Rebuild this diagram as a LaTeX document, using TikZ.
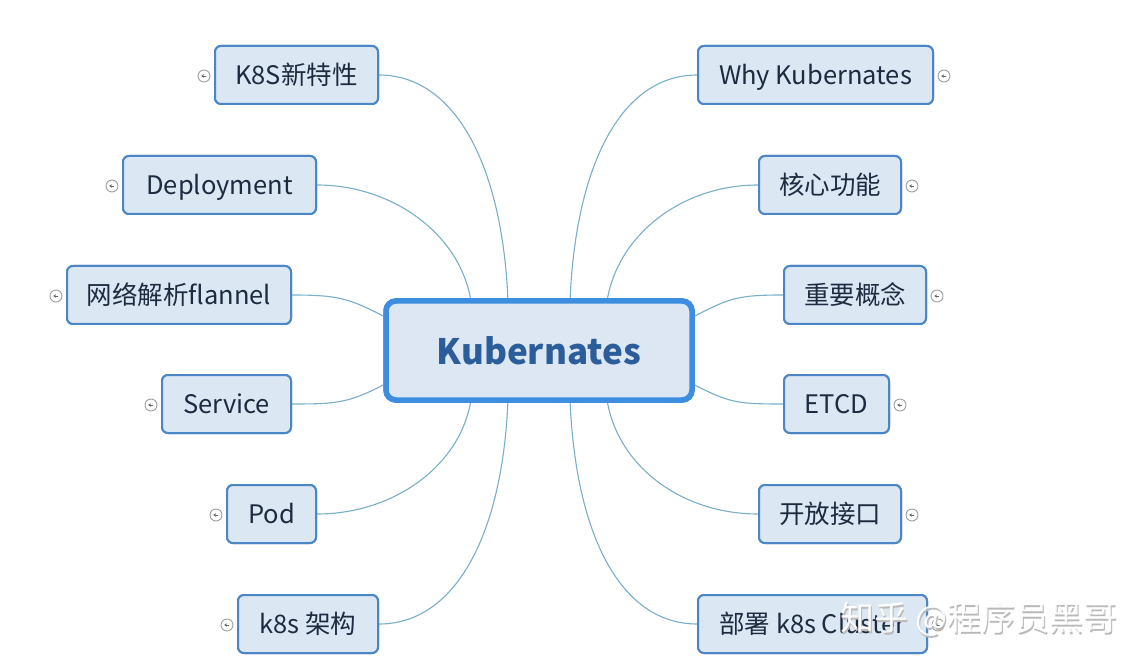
\documentclass[tikz,border=0pt]{standalone}
\usepackage{fontspec}
\setmainfont{Noto Sans CJK SC}
\usetikzlibrary{arrows.meta,calc}
\definecolor{boxfill}{HTML}{DCE7F4}
\definecolor{boxline}{HTML}{4B87C6}
\definecolor{cline}{HTML}{3D8EE0}
\definecolor{cfill}{HTML}{DDE7F3}
\definecolor{txt}{HTML}{1C2B3F}
\definecolor{ctxt}{HTML}{2A5D9A}
\definecolor{conn}{HTML}{7AAECB}
\begin{document}
\begin{tikzpicture}[x=1pt,y=-1pt,
  box/.style={draw=boxline, line width=2pt, fill=boxfill, rounded corners=6pt,
    minimum height=58pt, inner sep=0pt, font=\fontsize{25.5}{29}\selectfont, text=txt,
    text height=22.4pt, text depth=3.1pt},
  center/.style={draw=cline, line width=5.5pt, fill=cfill, rounded corners=10pt,
    minimum width=306pt, minimum height=99pt, inner sep=0pt,
    font=\fontsize{35}{40}\selectfont\bfseries, text=ctxt},
  connector/.style={draw=conn, line width=1.1pt},
  collapsemark/.style={circle, draw=gray!75, line width=0.9pt, fill=white,
    minimum size=12pt, inner sep=0pt},
  markarrow/.style={draw=gray!80!black, line width=0.8pt, -{Stealth[length=2.8pt,width=3.4pt]}}
]
\fill[white] (0,0) rectangle (1146,660);
\useasboundingbox (0,0) rectangle (1146,660);

% center
\node[center] (c) at (539,350.5) {Kubernates};

% left boxes
\node[box, minimum width=163pt] (k8snew) at (296.5,75) {K8S新特性};
\node[box, minimum width=193pt] (deploy) at (219.5,185) {Deployment};
\node[box, minimum width=224pt] (flannel) at (179,295) {网络解析flannel};
\node[box, minimum width=129pt] (service) at (226.5,404) {Service};
\node[box, minimum width=89pt] (pod) at (271.5,514) {Pod};
\node[box, minimum width=140pt] (arch) at (308,624) {k8s 架构};

% right boxes
\node[box, minimum width=235pt] (why) at (815.5,75) {Why Kubernates};
\node[box, minimum width=142pt] (core) at (830,185) {核心功能};
\node[box, minimum width=142pt] (concept) at (855,295) {重要概念};
\node[box, minimum width=105pt] (etcd) at (836.5,404) {ETCD};
\node[box, minimum width=142pt] (api) at (830,514) {开放接口};
\node[box, minimum width=229pt] (cluster) at (812.5,624) {部署 k8s Cluster};

% anchor points on the center node
\coordinate (tl1) at ($(c.north west)!0.28!(c.north east)$);
\coordinate (tl2) at ($(c.north west)!0.40!(c.north east)$);
\coordinate (tr2) at ($(c.north west)!0.60!(c.north east)$);
\coordinate (tr1) at ($(c.north west)!0.72!(c.north east)$);
\coordinate (bl1) at ($(c.south west)!0.28!(c.south east)$);
\coordinate (bl2) at ($(c.south west)!0.40!(c.south east)$);
\coordinate (br2) at ($(c.south west)!0.60!(c.south east)$);
\coordinate (br1) at ($(c.south west)!0.72!(c.south east)$);
\coordinate (wl1) at ($(c.north west)!0.17!(c.south west)$);
\coordinate (wl2) at ($(c.north west)!0.83!(c.south west)$);
\coordinate (el1) at ($(c.north east)!0.17!(c.south east)$);
\coordinate (el2) at ($(c.north east)!0.83!(c.south east)$);

% connectors
\draw[connector] (tl2) .. controls ($(tl2)+(-6,-135)$) and ($(k8snew.east)+(75,0)$) .. (k8snew.east);
\draw[connector] (tl1) .. controls ($(tl1)+(-12,-65)$) and ($(deploy.east)+(75,0)$) .. (deploy.east);
\draw[connector] (wl1) .. controls ($(wl1)+(-35,-18)$) and ($(flannel.east)+(45,0)$) .. (flannel.east);
\draw[connector] (wl2) .. controls ($(wl2)+(-35,18)$) and ($(service.east)+(45,0)$) .. (service.east);
\draw[connector] (bl1) .. controls ($(bl1)+(-12,65)$) and ($(pod.east)+(75,0)$) .. (pod.east);
\draw[connector] (bl2) .. controls ($(bl2)+(-6,135)$) and ($(arch.east)+(75,0)$) .. (arch.east);

\draw[connector] (tr2) .. controls ($(tr2)+(6,-135)$) and ($(why.west)+(-75,0)$) .. (why.west);
\draw[connector] (tr1) .. controls ($(tr1)+(12,-65)$) and ($(core.west)+(-75,0)$) .. (core.west);
\draw[connector] (el1) .. controls ($(el1)+(35,-18)$) and ($(concept.west)+(-45,0)$) .. (concept.west);
\draw[connector] (el2) .. controls ($(el2)+(35,18)$) and ($(etcd.west)+(-45,0)$) .. (etcd.west);
\draw[connector] (br1) .. controls ($(br1)+(12,65)$) and ($(api.west)+(-75,0)$) .. (api.west);
\draw[connector] (br2) .. controls ($(br2)+(6,135)$) and ($(cluster.west)+(-75,0)$) .. (cluster.west);

% redraw nodes on top of connectors
\node[center] at (c) {Kubernates};
\node[box, minimum width=163pt] at (k8snew) {K8S新特性};
\node[box, minimum width=193pt] at (deploy) {Deployment};
\node[box, minimum width=224pt] at (flannel) {网络解析flannel};
\node[box, minimum width=129pt] at (service) {Service};
\node[box, minimum width=89pt] at (pod) {Pod};
\node[box, minimum width=140pt] at (arch) {k8s 架构};
\node[box, minimum width=235pt] at (why) {Why Kubernates};
\node[box, minimum width=142pt] at (core) {核心功能};
\node[box, minimum width=142pt] at (concept) {重要概念};
\node[box, minimum width=105pt] at (etcd) {ETCD};
\node[box, minimum width=142pt] at (api) {开放接口};
\node[box, minimum width=229pt] at (cluster) {部署 k8s Cluster};

% collapse markers
\foreach \n/\b/\s in {m1/k8snew/-1, m2/deploy/-1, m3/flannel/-1, m4/service/-1, m5/pod/-1, m6/arch/-1,
                      m7/why/1, m8/core/1, m9/concept/1, m10/etcd/1, m11/api/1, m12/cluster/1}{
  \ifnum\s<0
    \node[collapsemark] (\n) at ($(\b.west)+(-10,1)$) {};
  \else
    \node[collapsemark] (\n) at ($(\b.east)+(10,1)$) {};
  \fi
  \draw[markarrow] ($(\n.center)+(2.4,0)$) -- ($(\n.center)+(-2.8,0)$);
}

% watermark
\node[font=\fontsize{34}{38}\selectfont, text=gray!55, anchor=center] (wmshadow) at (980,621) {知乎 @程序员黑哥};
\node[font=\fontsize{34}{38}\selectfont, text=white, opacity=0.92, anchor=center] (wm) at (979,619.5) {知乎 @程序员黑哥};
\end{tikzpicture}
\end{document}
